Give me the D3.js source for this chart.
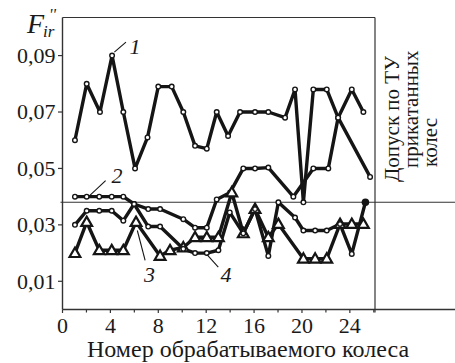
<!DOCTYPE html>
<html>
<head>
<meta charset="utf-8">
<script src="https://cdn.jsdelivr.net/npm/d3@7"></script>
<style>
  html, body { margin: 0; padding: 0; background: #fff; }
  svg { display: block; }
</style>
</head>
<body>
<svg id="chart" width="455" height="363"></svg>
<script>
// Wheel number (x) and runout value F''_ir (y) for each of the four series.
const wheels1 = [1.04, 2.02, 3.13, 4.14, 5.08, 6.06, 7.1, 8.0, 9.12, 10.09, 11.07, 12.05, 12.88, 13.83, 14.83, 16.08, 17.19, 18.59, 19.42, 20.12, 20.95, 22.07, 23.02, 25.69];
const series1 = [0.060, 0.080, 0.070, 0.090, 0.070, 0.050, 0.061, 0.079, 0.079, 0.070, 0.058, 0.057, 0.070, 0.0615, 0.070, 0.070, 0.070, 0.068, 0.078, 0.038, 0.078, 0.078, 0.068, 0.047];

const wheels2 = [1.04, 2.02, 3.07, 4.11, 5.08, 5.98, 7.16, 8.15, 10.09, 11.07, 12.05, 12.88, 14.0, 15.1, 16.08, 17.19, 19.28, 20.95, 22.2, 23.02, 24.16, 25.13];
const series2 = [0.040, 0.040, 0.040, 0.040, 0.040, 0.0374, 0.0356, 0.0356, 0.032, 0.029, 0.029, 0.039, 0.0415, 0.050, 0.050, 0.0503, 0.040, 0.050, 0.050, 0.068, 0.078, 0.070];

const wheels3 = [1.04, 2.02, 3.07, 4.11, 5.08, 6.14, 8.15, 8.98, 10.09, 11.07, 12.05, 13.02, 14.14, 15.1, 16.08, 17.19, 18.03, 20.12, 21.1, 22.07, 23.18, 24.16, 25.13];
const series3 = [0.020, 0.031, 0.021, 0.021, 0.021, 0.031, 0.019, 0.021, 0.022, 0.0256, 0.0256, 0.0256, 0.0415, 0.027, 0.0356, 0.0256, 0.0303, 0.018, 0.018, 0.018, 0.0303, 0.0303, 0.0303];

const wheels4 = [1.04, 2.02, 3.07, 4.11, 5.08, 5.98, 7.16, 8.15, 10.09, 11.07, 12.05, 13.02, 13.97, 15.1, 16.08, 17.19, 18.03, 19.42, 20.12, 21.1, 22.07, 23.18, 24.16, 25.3];
const series4 = [0.030, 0.035, 0.035, 0.035, 0.0315, 0.0374, 0.0294, 0.0294, 0.0215, 0.020, 0.020, 0.021, 0.0344, 0.027, 0.0356, 0.019, 0.038, 0.0326, 0.028, 0.028, 0.028, 0.0303, 0.0197, 0.038];

// Tolerance for rolled wheels
const tolerance = 0.038;

const xTicks = [0, 4, 8, 12, 16, 20, 24];
const xMinorTicks = [2, 6, 10, 14, 18, 22, 26];
const yTicks = [0.01, 0.03, 0.05, 0.07, 0.09];
const yTickLabels = ["0,01", "0,03", "0,05", "0,07", "0,09"];

// Series number labels with leader lines (label anchor, leader start, leader end)
const seriesLabels = ["1", "2", "3", "4"];
const labelAt = [[5.6, 0.0907], [4.1, 0.0447], [6.8, 0.0097], [13.2, 0.0097]];
const leaderFrom = [[5.3, 0.0948], [3.6, 0.0457], [6.9, 0.0174], [13.01, 0.0150]];
const leaderTo = [[4.33, 0.0912], [2.2, 0.0401], [6.25, 0.0280], [12.05, 0.0195]];

const FONT = "'Liberation Serif', 'Times New Roman', Times, 'DejaVu Serif', serif";
const svg = d3.select("#chart").attr("font-family", FONT);
const x = d3.scaleLinear().domain([0, 26.1]).range([62.5, 375]);
const y = d3.scaleLinear().domain([0, 0.1035]).range([309.5, 17.5]);

const ink = "#151515";
const axisInk = "#333";
const txt = sel => sel.attr("font-family", FONT).attr("fill", "#1a1a1a");

// Frame: left axis, top, right border; bottom axis and tolerance line run to the edge
svg.append("line").attr("x1", x(0)).attr("x2", x(0)).attr("y1", y.range()[1]).attr("y2", y.range()[0])
  .attr("stroke", axisInk).attr("stroke-width", 1.4);
svg.append("line").attr("x1", x(0)).attr("x2", x(26.1)).attr("y1", y.range()[1]).attr("y2", y.range()[1])
  .attr("stroke", axisInk).attr("stroke-width", 1.2);
svg.append("line").attr("x1", x(26.1)).attr("x2", x(26.1)).attr("y1", y.range()[1]).attr("y2", y.range()[0] + 3)
  .attr("stroke", axisInk).attr("stroke-width", 1.2);
svg.append("line").attr("x1", x(0)).attr("x2", 455).attr("y1", y.range()[0]).attr("y2", y.range()[0])
  .attr("stroke", axisInk).attr("stroke-width", 1.4);
svg.append("line").attr("x1", x(0) - 2).attr("x2", 455).attr("y1", y(tolerance)).attr("y2", y(tolerance))
  .attr("stroke", axisInk).attr("stroke-width", 1.1);

// X axis ticks and labels
const xAxisG = svg.append("g");
xAxisG.selectAll("line.major").data(xTicks).join("line")
  .attr("x1", d => x(d)).attr("x2", d => x(d))
  .attr("y1", y.range()[0]).attr("y2", y.range()[0] + 3.5)
  .attr("stroke", axisInk).attr("stroke-width", 1.2);
xAxisG.selectAll("line.minor").data(xMinorTicks).join("line")
  .attr("x1", d => x(d)).attr("x2", d => x(d))
  .attr("y1", y.range()[0]).attr("y2", y.range()[0] + 3)
  .attr("stroke", axisInk).attr("stroke-width", 1.2);
xAxisG.selectAll("text").data(xTicks).join("text")
  .call(txt)
  .attr("x", d => x(d)).attr("y", 333)
  .attr("text-anchor", "middle").attr("font-size", 22)
  .text(d => d);

// Y axis ticks and labels
const yAxisG = svg.append("g");
yAxisG.selectAll("line").data(yTicks).join("line")
  .attr("x1", x(0) - 4.5).attr("x2", x(0))
  .attr("y1", d => y(d)).attr("y2", d => y(d))
  .attr("stroke", axisInk).attr("stroke-width", 1.2);
yAxisG.selectAll("text").data(yTicks).join("text")
  .call(txt)
  .attr("x", 55.5).attr("y", d => y(d)).attr("dy", "0.34em")
  .attr("text-anchor", "end").attr("font-size", 22)
  .text((d, i) => yTickLabels[i]);

// Axis titles
svg.append("text").call(txt).attr("x", 248).attr("y", 357).attr("text-anchor", "middle")
  .attr("font-size", 24).text("Номер обрабатываемого колеса");

svg.append("text").call(txt).attr("x", 27).attr("y", 33).attr("font-style", "italic")
  .attr("font-size", 28).text("F");
svg.append("text").call(txt).attr("x", 43).attr("y", 37).attr("font-style", "italic")
  .attr("font-size", 17).text("ir");
svg.append("text").call(txt).attr("x", 49).attr("y", 20).attr("font-style", "italic")
  .attr("font-size", 16).text("''");

// Rotated tolerance note on the right
const note = [["Допуск по ТУ", 399, 182], ["прикатанных", 418, 168], ["колес", 437, 167]];
note.forEach(([t, bx, by]) => {
  svg.append("text").call(txt)
    .attr("transform", `translate(${bx},${by}) rotate(-90)`)
    .attr("font-size", 21).text(t);
});

// Series lines
const line = d3.line().x(d => x(d[0])).y(d => y(d[1]));
const pairs = (xs, ys) => xs.map((w, i) => [w, ys[i]]);
const all = [
  { pts: pairs(wheels1, series1), marker: "circle" },
  { pts: pairs(wheels2, series2), marker: "circle" },
  { pts: pairs(wheels3, series3), marker: "triangle" },
  { pts: pairs(wheels4, series4), marker: "circle" }
];

const linesG = svg.append("g");
all.forEach(s => {
  linesG.append("path").datum(s.pts).attr("d", line)
    .attr("fill", "none").attr("stroke", ink).attr("stroke-width", 3.4)
    .attr("stroke-linejoin", "round");
});

// Markers
const tri = d3.symbol().type(d3.symbolTriangle).size(50);
all.forEach((s, si) => {
  const g = svg.append("g");
  s.pts.forEach((p, i) => {
    const last = si === 3 && i === s.pts.length - 1;
    if (last) {
      g.append("circle").attr("cx", x(p[0])).attr("cy", y(p[1])).attr("r", 3.8).attr("fill", ink);
    } else if (s.marker === "triangle") {
      g.append("path").attr("d", tri).attr("transform", `translate(${x(p[0])},${y(p[1]) + 0.8})`)
        .attr("fill", "#fff").attr("stroke", ink).attr("stroke-width", 2.2);
    } else {
      g.append("circle").attr("cx", x(p[0])).attr("cy", y(p[1])).attr("r", 2.3)
        .attr("fill", "#fff").attr("stroke", ink).attr("stroke-width", 1.4);
    }
  });
});

// Series number labels
seriesLabels.forEach((t, i) => {
  svg.append("line")
    .attr("x1", x(leaderFrom[i][0])).attr("y1", y(leaderFrom[i][1]))
    .attr("x2", x(leaderTo[i][0])).attr("y2", y(leaderTo[i][1]))
    .attr("stroke", ink).attr("stroke-width", 1.1);
  svg.append("text").call(txt).attr("x", x(labelAt[i][0])).attr("y", y(labelAt[i][1]))
    .attr("font-size", 22).attr("font-style", "italic").text(t);
});
</script>
</body>
</html>
